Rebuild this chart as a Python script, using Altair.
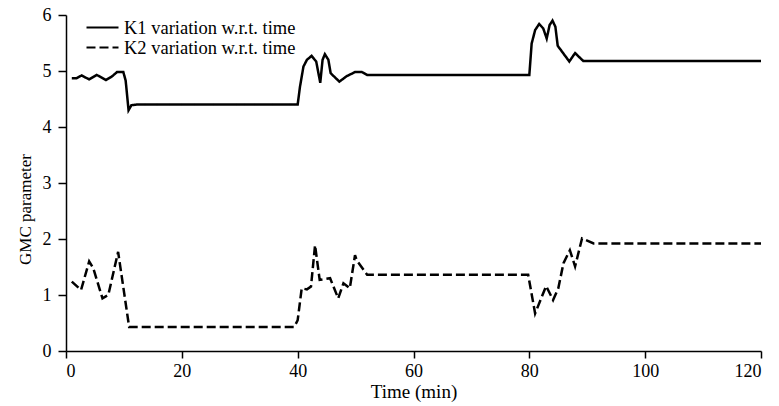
import altair as alt
import pandas as pd

# K1 variation w.r.t. time (solid)
k1_t = [1, 1.8, 2.7, 4.0, 5.3, 6.9, 7.9, 8.8, 9.9, 10.3, 10.8, 11.3, 12.2, 40.0,
        40.4, 41.0, 41.6, 42.4, 43.2, 43.9, 44.3, 44.7, 45.3, 45.7, 46.2, 47.2,
        48.5, 49.9, 51.1, 52.0, 80.0, 80.4, 81.0, 81.7, 82.4, 83.0, 83.5, 84.0,
        84.5, 84.9, 86.9, 87.9, 89.3, 120]
k1_v = [4.87, 4.87, 4.92, 4.85, 4.93, 4.84, 4.90, 4.98, 4.98, 4.83, 4.30, 4.39, 4.40, 4.40,
        4.72, 5.08, 5.20, 5.27, 5.17, 4.79, 5.20, 5.30, 5.20, 4.96, 4.91, 4.81,
        4.91, 4.98, 4.98, 4.93, 4.93, 5.49, 5.73, 5.84, 5.76, 5.58, 5.82, 5.90,
        5.79, 5.45, 5.17, 5.32, 5.18, 5.18]

# K2 variation w.r.t. time (dashed)
k2_t = [1, 2.6, 4.0, 4.7, 6.3, 7.3, 9.0, 10.9, 39.4, 40.0, 40.7, 41.6, 42.3, 43.0,
        43.8, 45.6, 47.0, 47.9, 49.0, 49.9, 50.2, 52.0, 79.8, 81.0, 82.9, 84.1,
        85.0, 85.9, 87.0, 87.9, 89.1, 91.1, 120]
k2_v = [1.24, 1.09, 1.60, 1.48, 0.94, 1.00, 1.77, 0.43, 0.43, 0.55, 1.12, 1.10, 1.15, 1.89,
        1.27, 1.30, 0.94, 1.21, 1.12, 1.71, 1.62, 1.36, 1.36, 0.67, 1.16, 0.91,
        1.12, 1.57, 1.80, 1.51, 2.01, 1.92, 1.92]

series_names = ["K1 variation w.r.t. time", "K2 variation w.r.t. time"]
x_ticks = [0, 20, 40, 60, 80, 100, 120]
y_ticks = [0, 1, 2, 3, 4, 5, 6]

df = pd.concat([
    pd.DataFrame({"t": k1_t, "v": k1_v, "series": series_names[0], "order": range(len(k1_t))}),
    pd.DataFrame({"t": k2_t, "v": k2_v, "series": series_names[1], "order": range(len(k2_t))}),
])

FONT = "Liberation Serif"

chart = alt.Chart(df).mark_line(color="black", strokeWidth=2.5).encode(
    x=alt.X("t:Q", scale=alt.Scale(domain=[0, 120], nice=False),
            axis=alt.Axis(values=x_ticks, title="Time (min)", grid=False,
                          tickSize=7, labelPadding=4, titlePadding=2, titleFontSize=19)),
    y=alt.Y("v:Q", scale=alt.Scale(domain=[0, 6], nice=False),
            axis=alt.Axis(values=y_ticks, title="GMC parameter", grid=False,
                          tickSize=8, labelPadding=7, titlePadding=8, titleFontSize=17,
                          titleY=194)),
    strokeDash=alt.StrokeDash("series:N",
        scale=alt.Scale(domain=series_names, range=[[1, 0], [9, 4]]),
        legend=alt.Legend(title=None, orient="none", legendX=27, legendY=3,
                          symbolType="M-2,0H2", symbolSize=256, symbolStrokeWidth=2.2,
                          symbolStrokeColor="black", labelFont=FONT, labelFontSize=18.5,
                          labelColor="black", labelOffset=12, labelLimit=400,
                          rowPadding=1, padding=0)),
    detail="series:N",
    order="order:Q",
).properties(
    width=695, height=336,
    autosize=alt.AutoSizeParams(type="none"),
    padding={"left": 66, "top": 15, "right": 18, "bottom": 55},
).configure_view(stroke=None).configure_axis(
    domainColor="black", domainWidth=1.5, tickColor="black", tickWidth=1.5,
    labelFont=FONT, labelFontSize=18, labelColor="black",
    titleFont=FONT, titleFontWeight="normal", titleColor="black",
)

chart.save("out.html", embed_options={"renderer": "svg", "actions": False})
